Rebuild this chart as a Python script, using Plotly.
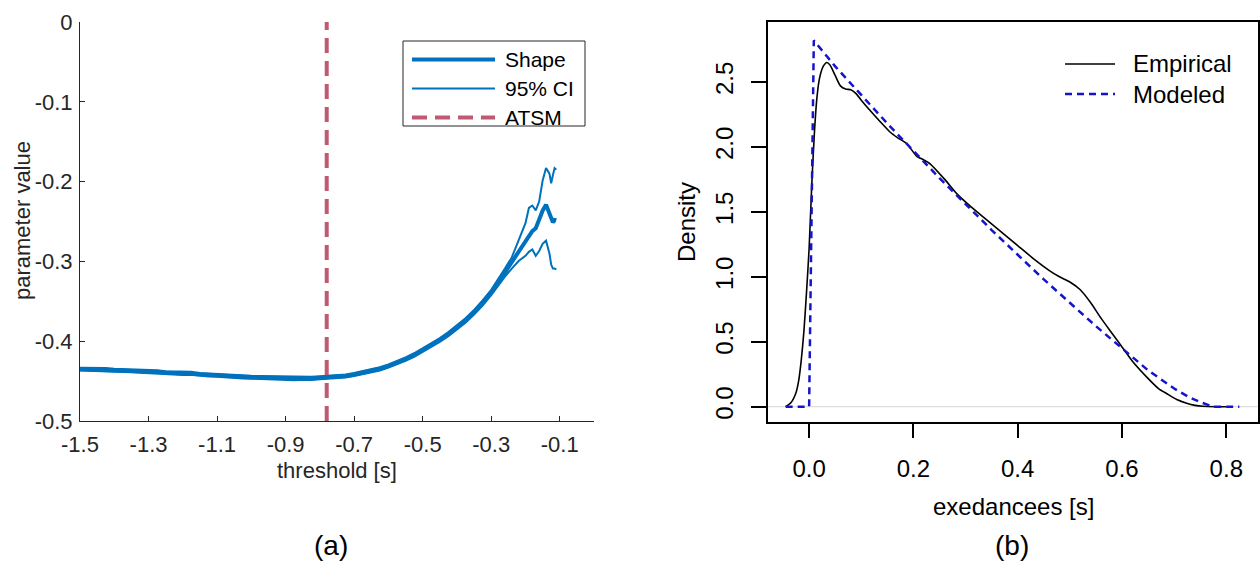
import plotly.graph_objects as go

# ---------------- panel (a): shape parameter vs threshold ----------------
thresholds = [-1.5, -1.475, -1.45, -1.425, -1.4, -1.375, -1.35, -1.325, -1.3, -1.275,
              -1.25, -1.225, -1.2, -1.175, -1.15, -1.125, -1.1, -1.075, -1.05, -1.025,
              -1.0, -0.975, -0.95, -0.925, -0.9, -0.875, -0.85, -0.825, -0.8, -0.775,
              -0.75, -0.725, -0.7, -0.675, -0.65, -0.625, -0.6, -0.575, -0.55, -0.525,
              -0.5, -0.475, -0.45, -0.425, -0.4, -0.375, -0.35, -0.325, -0.3,
              -0.28, -0.26, -0.24, -0.22, -0.2, -0.19, -0.18, -0.17, -0.16, -0.15,
              -0.14, -0.13, -0.125, -0.12, -0.115, -0.11]

shape_est = [-0.4350, -0.4353, -0.4358, -0.4354, -0.4363, -0.4368, -0.4371, -0.4378, -0.4385, -0.4382,
             -0.4392, -0.4399, -0.4404, -0.4401, -0.4417, -0.4425, -0.4428, -0.4437, -0.4446, -0.4448,
             -0.4452, -0.4456, -0.4457, -0.4462, -0.4466, -0.4470, -0.4463, -0.4466, -0.4458, -0.4453,
             -0.4447, -0.4436, -0.4418, -0.4396, -0.4374, -0.4346, -0.4311, -0.4271, -0.4224, -0.4173,
             -0.4112, -0.4051, -0.3984, -0.3911, -0.3829, -0.3741, -0.3638, -0.3522, -0.3390,
             -0.3268, -0.3139, -0.3018, -0.2885, -0.2760, -0.2695, -0.2620, -0.2585, -0.2470, -0.2365,
             -0.2290, -0.2410, -0.2470, -0.2510, -0.2480, -0.2485]

ci_upper = [-0.4333, -0.4334, -0.4341, -0.4335, -0.4346, -0.4349, -0.4354, -0.4359, -0.4367, -0.4363,
            -0.4375, -0.4380, -0.4386, -0.4383, -0.4399, -0.4406, -0.4410, -0.4418, -0.4428, -0.4429,
            -0.4434, -0.4437, -0.4439, -0.4443, -0.4448, -0.4451, -0.4445, -0.4447, -0.4440, -0.4434,
            -0.4429, -0.4417, -0.4399, -0.4377, -0.4355, -0.4326, -0.4291, -0.4250, -0.4203, -0.4151,
            -0.4090, -0.4028, -0.3960, -0.3886, -0.3803, -0.3713, -0.3609, -0.3490, -0.3356,
            -0.3228, -0.3090, -0.2950, -0.2740, -0.2520, -0.2330, -0.2300, -0.2360, -0.2250, -0.1990,
            -0.1830, -0.1900, -0.2020, -0.1920, -0.1830, -0.1850]

ci_lower = [-0.4368, -0.4371, -0.4375, -0.4373, -0.4381, -0.4386, -0.4389, -0.4396, -0.4403, -0.4401,
            -0.4410, -0.4417, -0.4422, -0.4420, -0.4435, -0.4443, -0.4447, -0.4455, -0.4464, -0.4467,
            -0.4470, -0.4475, -0.4476, -0.4480, -0.4484, -0.4488, -0.4482, -0.4485, -0.4477, -0.4471,
            -0.4466, -0.4455, -0.4437, -0.4415, -0.4393, -0.4366, -0.4331, -0.4292, -0.4246, -0.4195,
            -0.4135, -0.4074, -0.4008, -0.3936, -0.3855, -0.3769, -0.3667, -0.3554, -0.3424,
            -0.3308, -0.3190, -0.3090, -0.2995, -0.2930, -0.2880, -0.2850, -0.2930, -0.2870, -0.2780,
            -0.2740, -0.2900, -0.3040, -0.3090, -0.3090, -0.3100]

atsm_threshold = -0.78

a_xtick_vals = [-1.5, -1.3, -1.1, -0.9, -0.7, -0.5, -0.3, -0.1]
a_xtick_text = ["-1.5", "-1.3", "-1.1", "-0.9", "-0.7", "-0.5", "-0.3", "-0.1"]
a_ytick_vals = [0, -0.1, -0.2, -0.3, -0.4, -0.5]
a_ytick_text = ["0", "-0.1", "-0.2", "-0.3", "-0.4", "-0.5"]

# ---------------- panel (b): density of exceedances ----------------
emp_x = [-0.045, -0.035, -0.025, -0.02, -0.015, -0.01, -0.005, 0.0,
         0.005, 0.01, 0.015, 0.02, 0.027, 0.034, 0.04, 0.05, 0.06, 0.07,
         0.08, 0.09, 0.1, 0.117, 0.135, 0.155, 0.17, 0.187, 0.206, 0.22,
         0.232, 0.26, 0.283, 0.31, 0.34, 0.37, 0.4, 0.43, 0.46, 0.48,
         0.5, 0.52, 0.54, 0.56, 0.58, 0.6, 0.62, 0.647, 0.67, 0.686,
         0.705, 0.724, 0.74, 0.755, 0.78, 0.8]
emp_y = [0.0, 0.03, 0.11, 0.2, 0.36, 0.58, 0.88, 1.22,
         1.7, 2.1, 2.38, 2.53, 2.62, 2.65, 2.63, 2.55, 2.47, 2.445,
         2.44, 2.41, 2.36, 2.28, 2.2, 2.115, 2.07, 2.026, 1.93, 1.9,
         1.87, 1.75, 1.64, 1.54, 1.44, 1.34, 1.24, 1.14, 1.05, 1.0,
         0.96, 0.9, 0.8, 0.68, 0.57, 0.46, 0.35, 0.23, 0.14, 0.10,
         0.055, 0.026, 0.01, 0.003, 0.0, 0.0]

mod_x = [-0.045, 0.0, 0.009, 0.05, 0.1, 0.15, 0.2, 0.25, 0.3, 0.35, 0.4,
         0.45, 0.5, 0.55, 0.6, 0.65, 0.7, 0.73, 0.75, 0.775, 0.825]
mod_y = [0.0, 0.0, 2.82, 2.62, 2.40, 2.18, 1.97, 1.76, 1.56, 1.36, 1.17,
         0.98, 0.80, 0.62, 0.45, 0.28, 0.14, 0.07, 0.035, 0.0, 0.0]

b_xtick_vals = [0.0, 0.2, 0.4, 0.6, 0.8]
b_xtick_text = ["0.0", "0.2", "0.4", "0.6", "0.8"]
b_ytick_vals = [0.0, 0.5, 1.0, 1.5, 2.0, 2.5]
b_ytick_text = ["0.0", "0.5", "1.0", "1.5", "2.0", "2.5"]

# ---------------- styling ----------------
FONT = "Liberation Sans, Arial, sans-serif"
BLUE = "#0072BD"
ROSE = "#BF5A72"
AXC = "#262626"
DBLUE = "#1414CC"
W, H = 1260, 562


def px(x):
    return x / W


def py(y):
    return 1 - y / H


fig = go.Figure()

fig.add_trace(go.Scatter(x=thresholds, y=ci_upper, mode="lines",
                         line=dict(color=BLUE, width=2), xaxis="x", yaxis="y",
                         showlegend=False))
fig.add_trace(go.Scatter(x=thresholds, y=ci_lower, mode="lines",
                         line=dict(color=BLUE, width=2), xaxis="x", yaxis="y",
                         showlegend=False))
fig.add_trace(go.Scatter(x=thresholds, y=shape_est, mode="lines",
                         line=dict(color=BLUE, width=4), xaxis="x", yaxis="y",
                         showlegend=False))
fig.add_trace(go.Scatter(x=[atsm_threshold, atsm_threshold], y=[-0.5, 0], mode="lines",
                         line=dict(color=ROSE, width=4, dash="15px,8px"),
                         xaxis="x", yaxis="y", showlegend=False))

fig.add_trace(go.Scatter(x=emp_x, y=emp_y, mode="lines",
                         line=dict(color="black", width=1.6, shape="spline", smoothing=0.6),
                         xaxis="x2", yaxis="y2", showlegend=False))
fig.add_trace(go.Scatter(x=mod_x, y=mod_y, mode="lines",
                         line=dict(color=DBLUE, width=2.5, dash="7px,5px"),
                         xaxis="x2", yaxis="y2", showlegend=False))

shapes = [
    # zero reference line in panel (b)
    dict(type="line", xref="x2 domain", yref="y2", x0=0, x1=1, y0=0, y1=0,
         line=dict(color="#d6d6d6", width=1), layer="below"),
    # legend box of panel (a)
    dict(type="rect", xref="paper", yref="paper", x0=px(403), x1=px(585), y0=py(126), y1=py(41),
         line=dict(color=AXC, width=1), fillcolor="white"),
    dict(type="line", xref="paper", yref="paper", x0=px(412), x1=px(495), y0=py(59.5), y1=py(59.5),
         line=dict(color=BLUE, width=4)),
    dict(type="line", xref="paper", yref="paper", x0=px(412), x1=px(495), y0=py(88.5), y1=py(88.5),
         line=dict(color=BLUE, width=2)),
    dict(type="line", xref="paper", yref="paper", x0=px(412), x1=px(495), y0=py(117.5), y1=py(117.5),
         line=dict(color=ROSE, width=4, dash="15px,8px")),
    # legend of panel (b)
    dict(type="line", xref="paper", yref="paper", x0=px(1065), x1=px(1115), y0=py(64), y1=py(64),
         line=dict(color="black", width=1.6)),
    dict(type="line", xref="paper", yref="paper", x0=px(1065), x1=px(1115), y0=py(94), y1=py(94),
         line=dict(color=DBLUE, width=2.5, dash="7px,5px")),
]


def label(text, x, y, size, color="black", angle=0, anchor="center"):
    return dict(text=text, x=px(x), y=py(y), xref="paper", yref="paper", textangle=angle,
                xanchor=anchor, yanchor="middle", showarrow=False,
                font=dict(family=FONT, size=size, color=color))


annotations = [
    label("parameter value", 22, 221, 22, AXC, -90),
    label("threshold [s]", 337, 470, 22, AXC),
    label("(a)", 331, 545, 28),
    label("Density", 687, 222, 24, angle=-90),
    label("exedancees [s]", 1013, 506, 24),
    label("(b)", 1012, 545, 28),
    label("Shape", 503, 59.5, 21, anchor="left"),
    label("95% CI", 503, 88.5, 21, anchor="left"),
    label("ATSM", 503, 117.5, 21, anchor="left"),
    label("Empirical", 1131, 64, 24, anchor="left"),
    label("Modeled", 1131, 94, 24, anchor="left"),
]

fig.update_layout(
    template="none",
    width=W, height=H, autosize=False,
    margin=dict(l=0, r=0, t=0, b=0, pad=0),
    paper_bgcolor="white", plot_bgcolor="white",
    showlegend=False,
    font=dict(family=FONT),
    xaxis=dict(domain=[px(80), px(594)], range=[-1.5, 0], showline=True, linecolor=AXC,
               linewidth=1, mirror=False, ticks="inside", ticklen=5, tickcolor=AXC,
               tickvals=a_xtick_vals, ticktext=a_xtick_text, showgrid=False, zeroline=False,
               automargin=False,
               tickfont=dict(family=FONT, size=22, color=AXC), ticklabelstandoff=4),
    yaxis=dict(domain=[py(421), py(22)], range=[-0.5, 0], showline=True, linecolor=AXC,
               linewidth=1, mirror=False, ticks="inside", ticklen=5, tickcolor=AXC,
               tickvals=a_ytick_vals, ticktext=a_ytick_text, showgrid=False, zeroline=False,
               automargin=False,
               tickfont=dict(family=FONT, size=22, color=AXC), ticklabelstandoff=2),
    xaxis2=dict(domain=[px(767.5), px(1257.5)], range=[-0.0798, 0.8598], anchor="y2",
                showline=True, linecolor="black", linewidth=1.5, mirror=True,
                ticks="outside", ticklen=15, tickwidth=1.5, tickcolor="black",
                tickvals=b_xtick_vals, ticktext=b_xtick_text, showgrid=False, zeroline=False,
                automargin=False,
                tickfont=dict(family=FONT, size=24, color="black"), ticklabelstandoff=10),
    yaxis2=dict(domain=[py(421.5), py(21.7)], range=[-0.114, 2.964], anchor="x2",
                showline=True, linecolor="black", linewidth=1.5, mirror=True,
                ticks="outside", ticklen=15, tickwidth=1.5, tickcolor="black",
                tickvals=b_ytick_vals, ticktext=b_ytick_text, showgrid=False, zeroline=False,
                tickangle=-90, automargin=False,
                tickfont=dict(family=FONT, size=24, color="black"), ticklabelstandoff=8),
    shapes=shapes,
    annotations=annotations,
)

fig.write_html("out.html")
